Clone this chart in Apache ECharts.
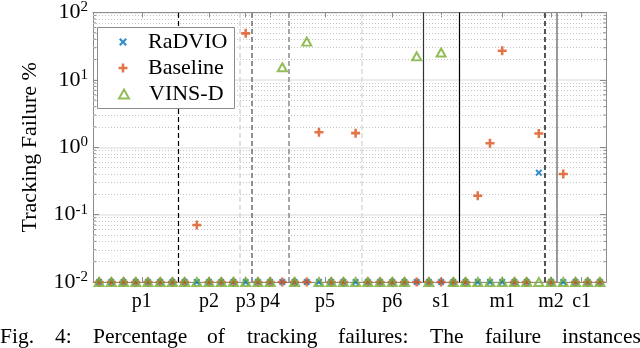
<!DOCTYPE html>
<html><head><meta charset="utf-8">
<script src="https://cdn.jsdelivr.net/npm/echarts@6/dist/echarts.min.js"></script>
<style>html,body{margin:0;padding:0;background:#fff}#c{width:640px;height:348px}</style>
</head><body><div id="c"></div>
<script>
// ---- data ----
const runs = [1,2,3,4,5,6,7,8,9,10,11,12,13,14,15,16,17,18,19,20,21,22,23,24,25,26,27,28,29,30,31,32,33,34,35,36,37,38,39,40,41,42];
const radvio = [
  0.01,0.01,0.01,0.01,0.01,0.01,0.01,
  0.01,0.01,0.01,0.01,0.01,0.01,0.01,
  0.01,0.01,0.01,0.01,0.01,0.01,0.01,
  0.01,0.01,0.01,0.01,0.01,0.01,0.01,
  0.01,0.01,0.01,0.01,0.01,0.01,0.01,
  0.01,0.42,0.01,0.01,0.01,0.01,0.01];
const baseline = [
  0.01,0.01,0.01,0.01,0.01,0.01,0.01,
  0.01,0.07,0.01,0.01,0.01,49,0.01,
  0.01,0.01,0.01,0.01,1.67,0.01,0.01,
  1.62,0.01,0.01,0.01,0.01,0.01,0.01,
  0.01,0.01,0.01,0.19,1.15,27,0.01,
  0.01,1.6,0.01,0.4,0.01,0.01,0.01];
const vinsd = [
  0.01,0.01,0.01,0.01,0.01,0.01,0.01,
  0.01,0.01,0.01,0.01,0.01,0.01,0.01,
  0.01,15.4,0.01,37,0.01,0.01,0.01,
  0.01,0.01,0.01,0.01,0.01,22.3,0.01,
  25.5,0.01,0.01,0.01,0.01,0.01,0.01,
  0.01,0.01,0.01,0.01,0.01,0.01,0.01];
const seqNames = ['p1','p2','p3','p4','p5','p6','s1','m1','m2','c1'];
const seqTicks = [4.5,10,13,15,19.5,25,29,34,38,40.5];
const separators = [7.5,12.5,13.5,16.5,22.5,27.5,30.5,37.5,38.5];
const captionWords = ['Fig.','4:','Percentage','of','tracking','failures:','The','failure','instances'];

// ---- styling ----
const XMIN = 0.5, XMAX = 42.5;
const SERIF = 'Liberation Serif';
const AX = '#8c8c8c';
const sepStyles = [
  {color:'#000000', type:[5,3], width:1.2},
  {color:'#d6d6d6', type:[5,3], width:1.5},
  {color:'#6e6e6e', type:[5,3], width:1.5},
  {color:'#8a8a8a', type:[5,3], width:1.5},
  {color:'#dadada', type:[5,3], width:1.5},
  {color:'#333333', type:'solid', width:1.2},
  {color:'#000000', type:'solid', width:1.2},
  {color:'#555555', type:[5,3], width:2},
  {color:'#9a9a9a', type:'solid', width:2}
];
const captionX = [0,55,93,207,247,338,430,485,562];
const minorVals = [];
[0.01,0.1,1,10].forEach(d => { for (let k = 2; k <= 9; k++) minorVals.push(+(d*k).toPrecision(3)); });

const xPath = 'path://M2,0L5,3L8,0L10,2L7,5L10,8L8,10L5,7L2,10L0,8L3,5L0,2Z';
const plusPath = 'path://M3.6,0H6.4V3.6H10V6.4H6.4V10H3.6V6.4H0V3.6H3.6Z';

const pair = arr => runs.map((r, i) => [r, arr[i]]);

const chart = echarts.init(document.getElementById('c'), null, {renderer:'canvas'});

function legendFor(name, row, w, h) {
  const cy = [42, 68, 94][row];
  return {
    data: [name], orient:'vertical', selectedMode:false, z: 100,
    left: 123 - w/2, top: cy - 11, padding: 0,
    itemWidth: w, itemHeight: h,
    textStyle: {fontFamily: SERIF, fontSize: 22, color:'#000', lineHeight: 22, padding:[0,0,0,20 - w/2]}
  };
}

const option = {
  animation: false,
  backgroundColor: '#fff',
  grid: {left: 93, right: 34, top: 12, bottom: 66, containLabel: false},
  xAxis: [{
    type:'value', min: XMIN, max: XMAX, position:'bottom',
    axisLine:{show:true, lineStyle:{color:AX, width:1}},
    axisTick:{show:true, inside:true, length:5, lineStyle:{color:AX}, customValues: seqTicks},
    axisLabel:{show:true, customValues: seqTicks, margin: 10,
      formatter: v => seqNames[seqTicks.indexOf(v)] || '',
      fontFamily: SERIF, fontSize: 20, color:'#000'},
    splitLine:{show:false}
  },{
    type:'value', min: XMIN, max: XMAX, position:'top',
    axisLine:{show:true, onZero:false, lineStyle:{color:AX, width:1}},
    axisTick:{show:true, inside:true, length:5, lineStyle:{color:AX}, customValues: seqTicks},
    axisLabel:{show:false}, splitLine:{show:false}
  }],
  yAxis: [{
    type:'log', logBase:10, min:0.01, max:100, position:'left',
    name:'Tracking Failure %', nameLocation:'middle', nameGap: 52, nameRotate: 90,
    nameTextStyle:{fontFamily: SERIF, fontSize: 22, color:'#000'},
    axisLine:{show:true, lineStyle:{color:AX, width:1}},
    axisTick:{show:true, inside:true, length:6, lineStyle:{color:AX}},
    axisLabel:{margin: 5, color:'#000',
      formatter: v => '{a|10}{b|' + Math.round(Math.log10(v)) + '}',
      rich:{a:{fontFamily:SERIF, fontSize:22, color:'#000'},
            b:{fontFamily:SERIF, fontSize:15, color:'#000', verticalAlign:'top', padding:[0,0,10,0]}}},
    splitLine:{show:true, lineStyle:{color:'#e6e6e6', width:1.5}}
  },{
    type:'log', logBase:10, min:0.01, max:100, position:'right',
    axisLine:{show:true, lineStyle:{color:AX, width:1}},
    axisTick:{show:true, inside:true, length:6, lineStyle:{color:AX}},
    axisLabel:{show:false}, splitLine:{show:false}
  }],
  legend: [
    legendFor('RaDVIO', 0, 8, 8),
    legendFor('Baseline', 1, 9, 9),
    legendFor('VINS-D', 2, 10, 9)
  ],
  graphic: [
    {type:'rect', left: 97, top: 27, z: 90,
     shape:{width:137, height:81}, style:{fill:'#fff', stroke:'#8c8c8c', lineWidth:1}}
  ].concat(captionWords.map((w, i) => ({
    type:'text', left: captionX[i], top: 326,
    style:{text: w, fontFamily: SERIF, fontSize: 21.5, fill:'#000'}
  }))),
  series: [
    { // minor grid
      type:'line', data:[], z:1, silent:true,
      markLine:{silent:true, symbol:['none','none'], animation:false, label:{show:false},
        lineStyle:{color:'#c4c4c4', type:[1,2], width:1},
        data: minorVals.map(v => ({yAxis: v}))}
    },
    { // minor ticks
      type:'custom', z:2, silent:true, clip:false,
      data: minorVals.map(v => [v]),
      renderItem: (params, api) => {
        const v = api.value(0);
        const l = api.coord([XMIN, v]), r = api.coord([XMAX, v]);
        const st = {stroke: AX, lineWidth: 1};
        return {type:'group', children:[
          {type:'line', shape:{x1:l[0], y1:l[1], x2:l[0]+3, y2:l[1]}, style:st},
          {type:'line', shape:{x1:r[0], y1:r[1], x2:r[0]-3, y2:r[1]}, style:st}
        ]};
      }
    },
    { // sequence separators
      type:'line', data:[], z:3, silent:true,
      markLine:{silent:true, symbol:['none','none'], animation:false, label:{show:false},
        data: separators.map((s, i) => ({xAxis: s, lineStyle: sepStyles[i]}))}
    },
    {name:'RaDVIO', type:'scatter', z:10, clip:false, data: pair(radvio),
     symbol: xPath, symbolSize: 7, itemStyle:{color:'#0072BD'}},
    {name:'Baseline', type:'scatter', z:11, clip:false, data: pair(baseline),
     symbol: plusPath, symbolSize: 9, itemStyle:{color:'#D95319'}},
    {name:'VINS-D', type:'scatter', z:12, clip:false, data: pair(vinsd),
     symbol:'triangle', symbolSize:[9,8],
     itemStyle:{color:'rgba(0,0,0,0)', borderColor:'#77AC30', borderWidth:2}}
  ]
};
chart.setOption(option);
</script>
</body></html>
